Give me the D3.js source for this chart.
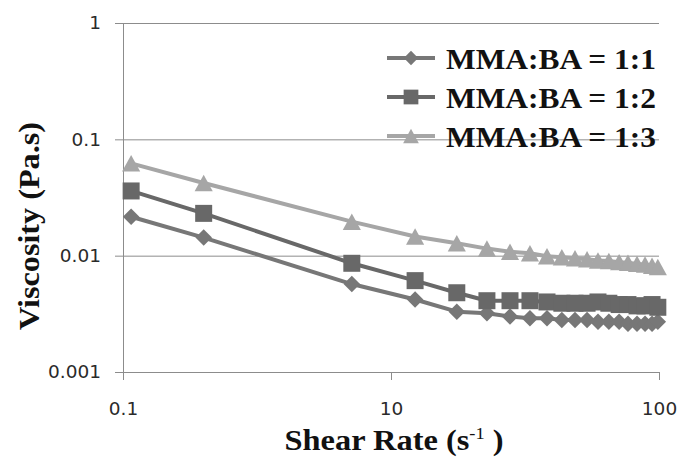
<!DOCTYPE html>
<html>
<head>
<meta charset="utf-8">
<script src="https://cdn.jsdelivr.net/npm/d3@7"></script>
<style>
  html, body { margin: 0; padding: 0; background: #fff; }
  svg { display: block; }
</style>
</head>
<body>
<svg id="chart" width="679" height="460"></svg>
<script>
// ---- data ----
const shearRate = [0.115, 0.40, 5.1, 12.3, 17.6, 22.8, 27.8, 33, 38.2, 43.4, 48.6, 53.9, 59.2, 65, 71, 76.6, 82.8, 88.7, 94.2, 99];
const visc11 = [0.0216, 0.0143, 0.0057, 0.0042, 0.0033, 0.0032, 0.0030, 0.0029, 0.0029, 0.0028, 0.0028, 0.0028, 0.0027, 0.0027, 0.0027, 0.0026, 0.0026, 0.0026, 0.0026, 0.0027];
const visc12 = [0.0360, 0.0231, 0.0086, 0.0061, 0.0048, 0.0041, 0.0041, 0.0041, 0.0040, 0.0039, 0.0039, 0.0039, 0.0040, 0.0039, 0.0038, 0.0038, 0.0037, 0.0037, 0.0038, 0.0036];
const visc13 = [0.0622, 0.0421, 0.0196, 0.0146, 0.0128, 0.0115, 0.0108, 0.0105, 0.0099, 0.0097, 0.0095, 0.0093, 0.0091, 0.0090, 0.0088, 0.0087, 0.0085, 0.0084, 0.0082, 0.0080];
const seriesNames = ["MMA:BA = 1:1", "MMA:BA = 1:2", "MMA:BA = 1:3"];
const xTickValues = [0.1, 10, 100];
const xTickLabels = ["0.1", "10", "100"];
const yTickValues = [0.001, 0.01, 0.1, 1];
const yTickLabels = ["0.001", "0.01", "0.1", "1"];

// ---- layout ----
const svg = d3.select("#chart");
const plot = { left: 123, right: 659, top: 23, bottom: 372 };

// x axis of the original is drawn with unequal decades; use a piecewise log scale
const x = d3.scaleLog().domain(xTickValues).range([plot.left, 391, plot.right]);
const y = d3.scaleLog().domain([0.001, 1]).range([plot.bottom, plot.top]);

const gridColor = "#8c8c8c";
const labelColor = "#2a2a2a";

// y axis + horizontal gridlines
const yAxis = d3.axisLeft(y).tickValues(yTickValues)
  .tickFormat((d, i) => yTickLabels[i]).tickSize(8).tickPadding(14);
const gy = svg.append("g").attr("transform", `translate(${plot.left},0)`).call(yAxis);
gy.select(".domain").attr("stroke", gridColor);
gy.selectAll(".tick line").attr("stroke", gridColor);
gy.selectAll(".tick text").attr("fill", labelColor)
  .style("font-family", "DejaVu Sans").style("font-size", "18.5px");
svg.append("g").selectAll("line").data(yTickValues.slice(1)).join("line")
  .attr("x1", plot.left).attr("x2", plot.right)
  .attr("y1", d => y(d) + 0.5).attr("y2", d => y(d) + 0.5)
  .attr("stroke", gridColor).attr("stroke-width", 1);

// x axis
const xAxis = d3.axisBottom(x).tickValues(xTickValues)
  .tickFormat((d, i) => xTickLabels[i]).tickSize(8).tickPadding(22);
const gx = svg.append("g").attr("transform", `translate(0,${plot.bottom})`).call(xAxis);
gx.select(".domain").attr("stroke", gridColor);
gx.selectAll(".tick line").attr("stroke", gridColor);
gx.selectAll(".tick text").attr("fill", labelColor)
  .style("font-family", "DejaVu Sans").style("font-size", "18.5px");

// ---- marker shapes ----
const diamond = { draw(ctx, size) { const r = Math.sqrt(size) / 2; ctx.moveTo(0, -r); ctx.lineTo(r, 0); ctx.lineTo(0, r); ctx.lineTo(-r, 0); ctx.closePath(); } };
const square = { draw(ctx, size) { const r = Math.sqrt(size) / 2; ctx.rect(-r, -r, 2 * r, 2 * r); } };
const triangle = { draw(ctx, size) { const r = Math.sqrt(size) / 2; ctx.moveTo(0, -r); ctx.lineTo(r * 1.1, r); ctx.lineTo(-r * 1.1, r); ctx.closePath(); } };

const series = [
  { name: seriesNames[0], values: visc11, color: "#777777", symbol: diamond, size: 272 },
  { name: seriesNames[1], values: visc12, color: "#686868", symbol: square, size: 289 },
  { name: seriesNames[2], values: visc13, color: "#a6a6a6", symbol: triangle, size: 272 }
];

const line = d3.line().x(d => x(d[0])).y(d => y(d[1]));

series.forEach(s => {
  const pts = shearRate.map((r, i) => [r, s.values[i]]);
  svg.append("path").datum(pts).attr("d", line)
    .attr("fill", "none").attr("stroke", s.color).attr("stroke-width", 4)
    .attr("stroke-linejoin", "round");
  svg.append("g").selectAll("path").data(pts).join("path")
    .attr("transform", d => `translate(${x(d[0])},${y(d[1])})`)
    .attr("d", d3.symbol().type(s.symbol).size(s.size))
    .attr("fill", s.color);
});

// ---- legend ----
const legend = svg.append("g").attr("transform", "translate(387,58)");
series.forEach((s, i) => {
  const g = legend.append("g").attr("transform", `translate(0,${i * 39})`);
  g.append("line").attr("x1", 0).attr("x2", 48).attr("y1", 0).attr("y2", 0)
    .attr("stroke", s.color).attr("stroke-width", 4);
  g.append("path").attr("transform", "translate(24,0)")
    .attr("d", d3.symbol().type(s.symbol).size(s.size * 0.75)).attr("fill", s.color);
  g.append("text").attr("x", 59).attr("y", 0).attr("dy", "0.35em")
    .attr("textLength", 210).attr("lengthAdjust", "spacingAndGlyphs")
    .style("font-family", "Liberation Serif").style("font-weight", "bold")
    .style("font-size", "30px").attr("fill", "#111").text(s.name);
});

// ---- axis titles ----
svg.append("text")
  .attr("transform", "translate(39,226) rotate(-90)")
  .attr("text-anchor", "middle")
  .attr("textLength", 208).attr("lengthAdjust", "spacingAndGlyphs")
  .style("font-family", "Liberation Serif").style("font-weight", "bold")
  .style("font-size", "30px").attr("fill", "#111")
  .text("Viscosity (Pa.s)");

const xt = svg.append("text")
  .attr("transform", "translate(394,450) scale(1.08,1)")
  .attr("text-anchor", "middle")
  .style("font-family", "Liberation Serif").style("font-weight", "bold")
  .style("font-size", "30px").attr("fill", "#111");
xt.append("tspan").text("Shear Rate (s");
xt.append("tspan").attr("dy", "-11").style("font-size", "17px").style("font-weight", "normal").text("-1");
xt.append("tspan").attr("dy", "11").text(" )");
</script>
</body>
</html>
